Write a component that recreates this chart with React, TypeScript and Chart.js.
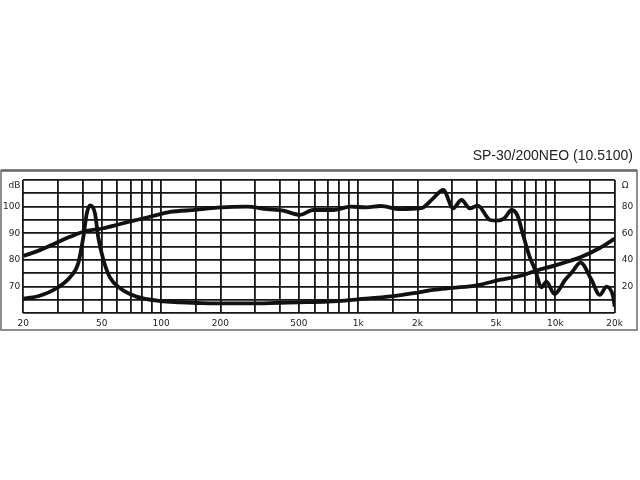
import React, { useEffect, useRef } from "react";
import { Chart, registerables } from "chart.js";

Chart.register(...registerables);

const titleText = "SP-30/200NEO (10.5100)";

// frequency response (dB, left axis)
const splFreq = [20, 24.3, 29.5, 34.5, 40.3, 51, 62, 75, 91, 111, 150, 192, 272, 344, 417, 506, 591, 748, 910, 1100, 1300, 1630, 2050, 2140, 2400, 2700, 3030, 3340, 3680, 4040, 4660, 5050, 5500, 6000, 6400, 6900, 7400, 7900, 8500, 9000, 9900, 11200, 12200, 13400, 15200, 16800, 18200, 19600, 20000];
const splDb = [81.5, 83.7, 86.5, 88.7, 90.6, 91.9, 93.5, 95, 96.5, 98, 98.8, 99.6, 100, 99.1, 98.5, 96.9, 98.75, 98.75, 100, 99.75, 100.25, 99.1, 99.4, 99.75, 103.1, 106.25, 99.4, 102.5, 99.4, 100.4, 95, 94.75, 95.6, 98.75, 96.9, 88.75, 81.25, 76.25, 69.75, 71.9, 67.25, 72.5, 75.6, 79, 72.75, 66.9, 70, 66.5, 62.5];

// impedance (Ω, right axis)
const impFreq = [20, 24, 29.5, 34.5, 38, 40.3, 42, 43.6, 46.2, 48, 51, 55, 62, 75, 99, 125, 160, 200, 280, 400, 500, 700, 1000, 1500, 2000, 2400, 3000, 4000, 5200, 6600, 8000, 10000, 13400, 16800, 20000];
const impOhm = [11, 13, 18.8, 27, 37.5, 57, 75, 81, 75, 57, 40, 27, 18.8, 12.5, 9.2, 8.3, 7.6, 7.4, 7.4, 7.9, 8.2, 8.8, 10.5, 12.8, 15.5, 17.5, 19, 21, 25, 28, 32, 36, 42, 49, 56];

// axes
const xGridFreqs = [20, 30, 40, 50, 60, 70, 80, 90, 100, 150, 200, 300, 400, 500, 600, 700, 800, 900, 1000, 1500, 2000, 3000, 4000, 5000, 6000, 7000, 8000, 9000, 10000, 15000, 20000];
const xLabelValues = [20, 50, 100, 200, 500, 1000, 2000, 5000, 10000, 20000];
const xLabelTexts = ["20", "50", "100", "200", "500", "1k", "2k", "5k", "10k", "20k"];
const dbLabelValues = [70, 80, 90, 100];
const dbUnit = "dB";
const ohmLabelValues = [20, 40, 60, 80];
const ohmUnit = "Ω";

const tickFont = { family: "'DejaVu Sans', Verdana, sans-serif", size: 9 };
const ink = "#151515";

const framePlugin = {
  id: "frame",
  beforeDraw(chart: any) {
    const ctx = chart.ctx;
    ctx.save();
    ctx.strokeStyle = "#6a6a6a";
    ctx.lineWidth = 1.5;
    ctx.strokeRect(1, 170.5, 636, 159.5);
    ctx.lineWidth = 2.5;
    ctx.beginPath();
    ctx.moveTo(1, 170.5);
    ctx.lineTo(637, 170.5);
    ctx.stroke();
    ctx.restore();
  },
};

export default function App() {
  const ref = useRef<HTMLCanvasElement>(null);

  useEffect(() => {
    const canvas = ref.current;
    if (!canvas) return;
    const chart = new Chart(canvas, {
      type: "line",
      data: {
        datasets: [
          {
            label: "SPL",
            data: splFreq.map((f, i) => ({ x: f, y: splDb[i] })),
            yAxisID: "y",
            borderColor: "#111",
            borderWidth: 3.8,
            pointRadius: 0,
            cubicInterpolationMode: "monotone",
            fill: false,
          },
          {
            label: "Impedance",
            data: impFreq.map((f, i) => ({ x: f, y: impOhm[i] })),
            yAxisID: "y1",
            borderColor: "#111",
            borderWidth: 3.8,
            pointRadius: 0,
            cubicInterpolationMode: "monotone",
            fill: false,
          },
        ],
      },
      options: {
        animation: false,
        responsive: false,
        maintainAspectRatio: false,
        layout: { padding: { top: 0, right: 7, bottom: 0, left: 0 } },
        plugins: {
          legend: { display: false },
          tooltip: { enabled: false },
          title: {
            display: true,
            text: titleText,
            align: "end",
            color: "#222",
            font: { family: "'Liberation Sans', Arial, sans-serif", size: 14, weight: "normal", lineHeight: 1.2 },
            padding: { top: 148, bottom: 15.2 },
          },
        },
        scales: {
          x: {
            type: "logarithmic",
            position: "bottom",
            min: 20,
            max: 20000,
            afterBuildTicks: (s: any) => {
              s.ticks = xGridFreqs.map((v) => ({ value: v }));
            },
            afterFit: (s: any) => {
              s.height = 166.7;
            },
            ticks: {
              autoSkip: false,
              maxRotation: 0,
              minRotation: 0,
              padding: 5,
              color: "#222",
              font: tickFont,
              callback: (v: any) => {
                const i = xLabelValues.indexOf(Number(v));
                return i >= 0 ? xLabelTexts[i] : "";
              },
            },
            grid: { color: ink, lineWidth: 1.8, drawTicks: false },
            border: { display: false },
          },
          y: {
            type: "linear",
            position: "left",
            min: 60,
            max: 110,
            afterFit: (s: any) => {
              s.width = 23.3;
            },
            ticks: {
              stepSize: 5,
              autoSkip: false,
              padding: 3,
              color: "#222",
              font: tickFont,
              callback: (v: any) => {
                const n = Number(v);
                if (n === 110) return ["", dbUnit];
                return dbLabelValues.includes(n) ? String(n) : "";
              },
            },
            grid: { color: ink, lineWidth: 1.8, drawTicks: false },
            border: { display: false },
          },
          y1: {
            type: "linear",
            position: "right",
            min: 0,
            max: 100,
            afterFit: (s: any) => {
              s.width = 18.3;
            },
            ticks: {
              stepSize: 20,
              autoSkip: false,
              padding: 7,
              color: "#222",
              font: tickFont,
              callback: (v: any) => {
                const n = Number(v);
                if (n === 100) return ["", ohmUnit];
                return ohmLabelValues.includes(n) ? String(n) : "";
              },
            },
            grid: { display: false, drawTicks: false },
            border: { display: false },
          },
        },
      },
      plugins: [framePlugin],
    } as any);
    return () => chart.destroy();
  }, []);

  return (
    <div style={{ position: "fixed", left: 0, top: 0, width: 640, height: 480, background: "#fff" }}>
      <canvas ref={ref} width={640} height={480} style={{ width: 640, height: 480, display: "block" }} />
    </div>
  );
}
